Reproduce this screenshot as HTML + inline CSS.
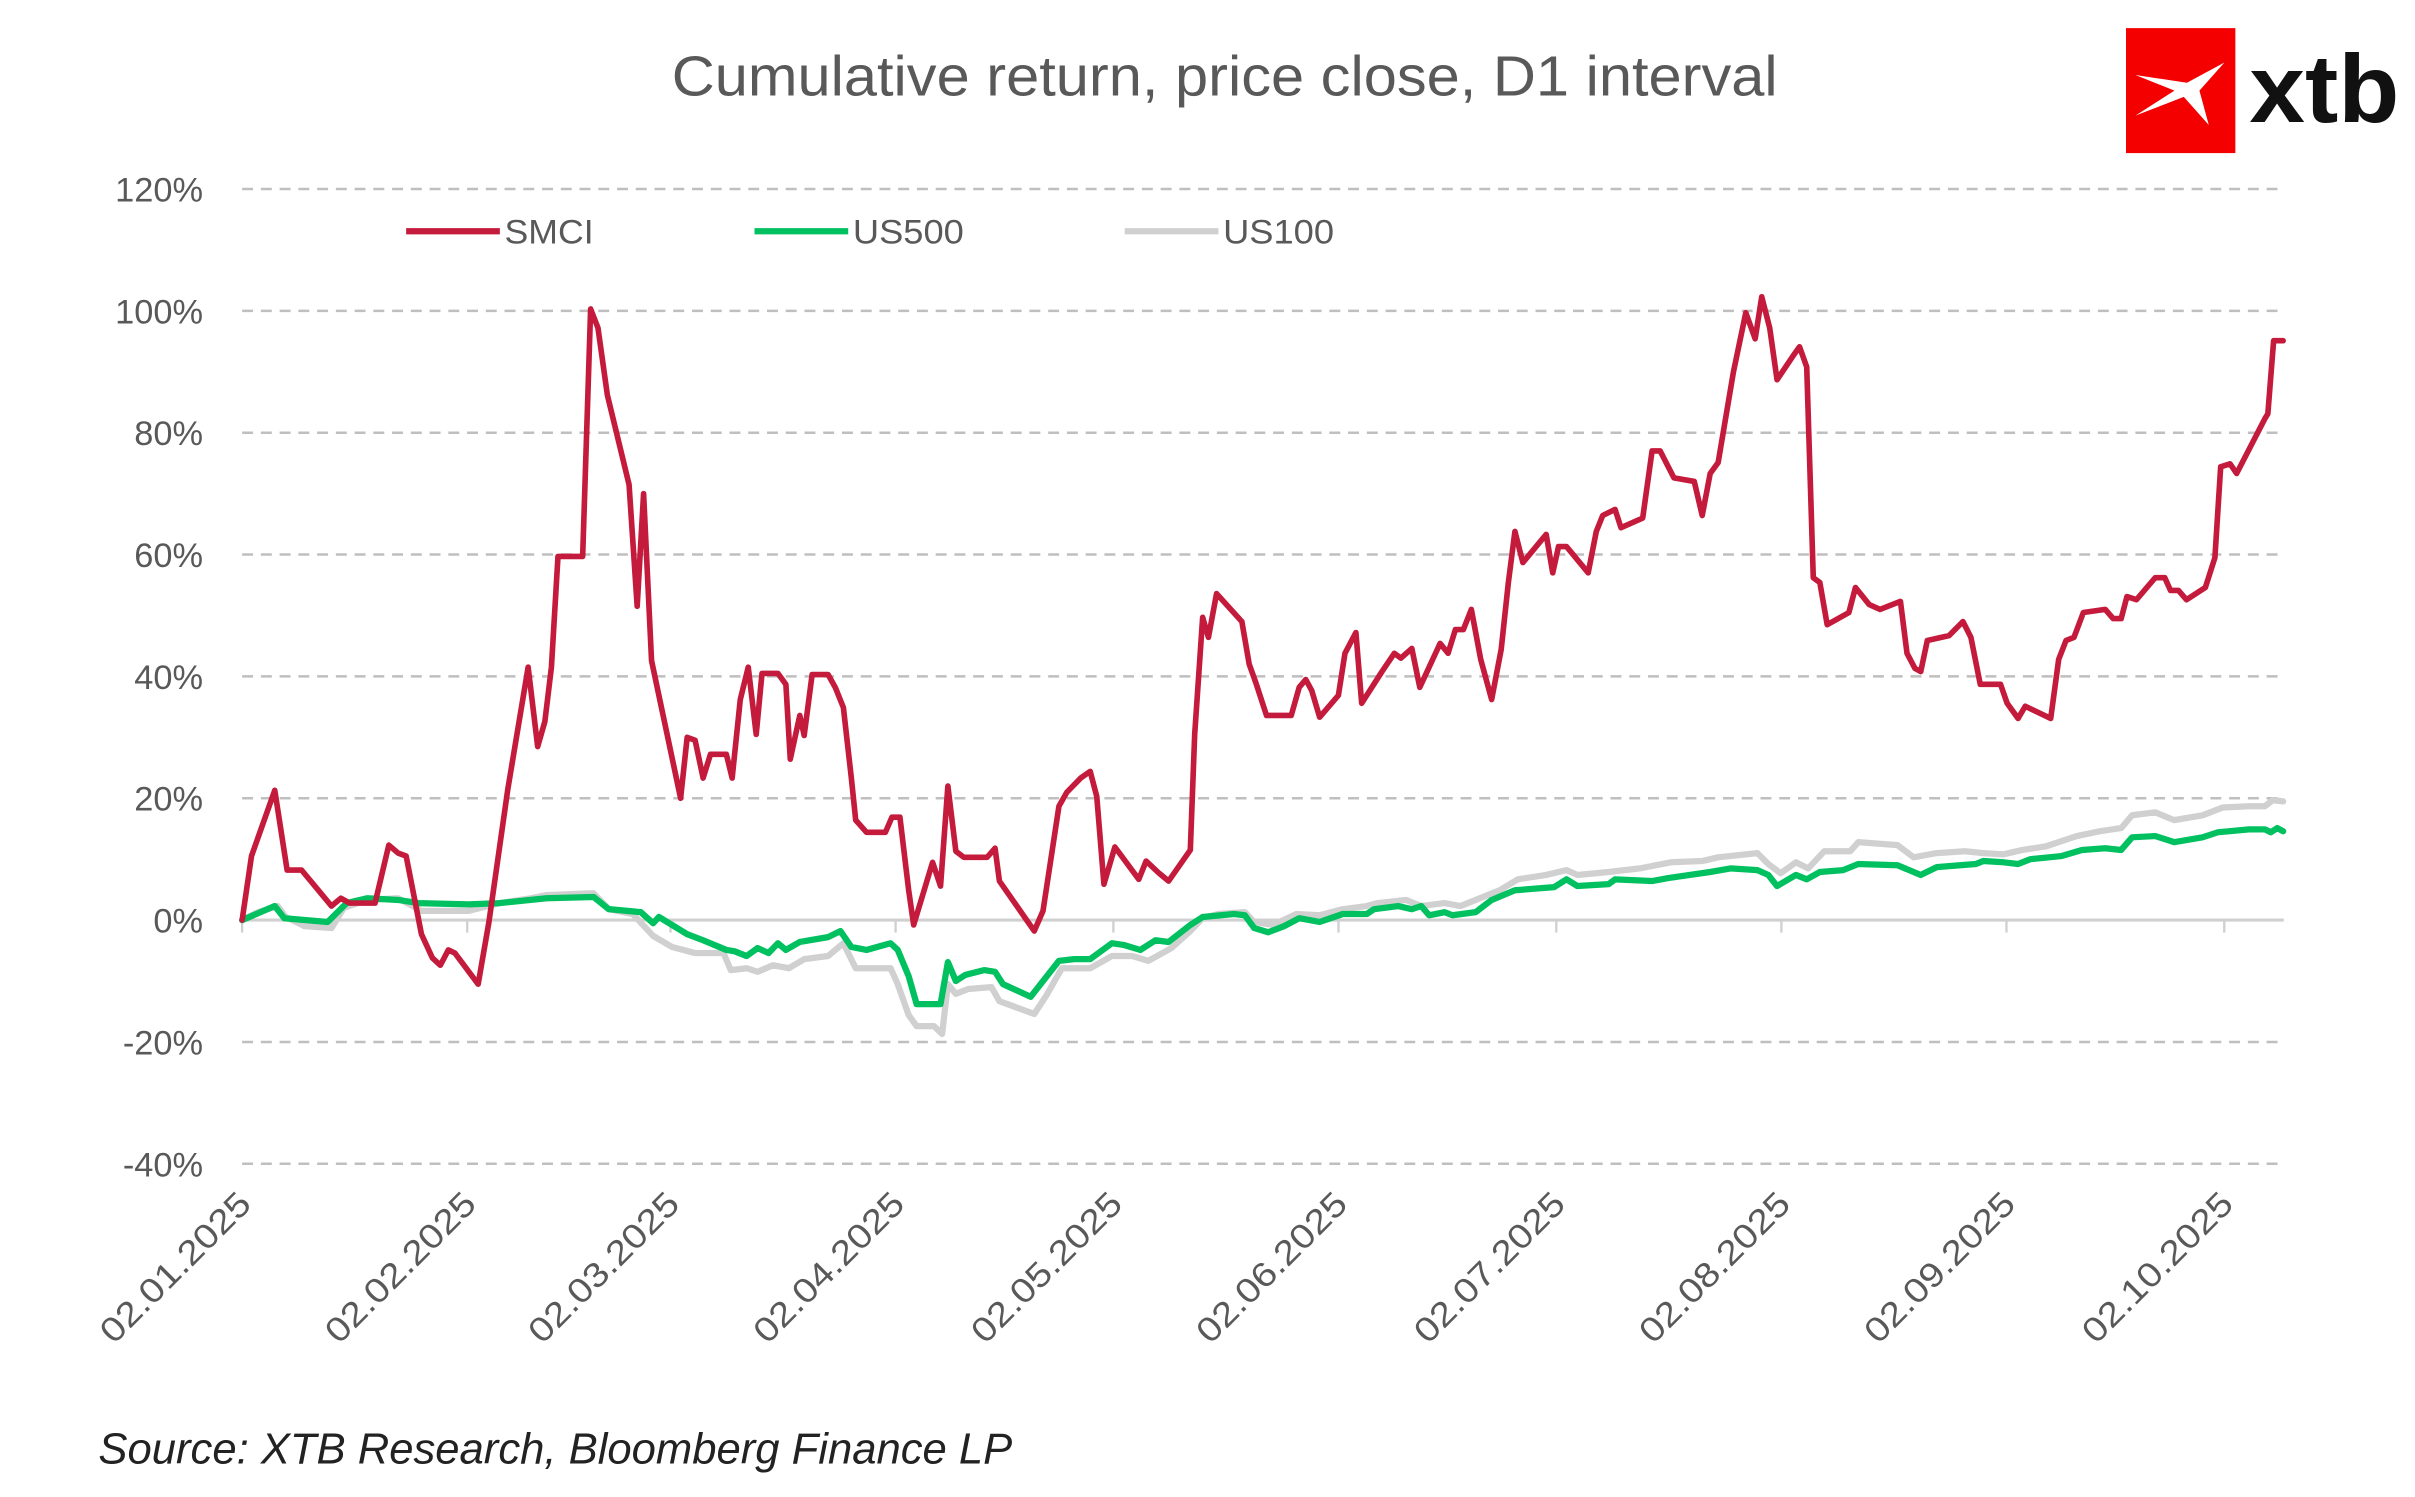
<!DOCTYPE html>
<html><head><meta charset="utf-8"><style>
html,body{margin:0;padding:0;background:#fff;}
svg{display:block;font-family:"Liberation Sans",sans-serif;}
</style></head><body>
<svg id="chart" width="2415" height="1497" viewBox="0 0 1546 958.3" preserveAspectRatio="none" xmlns="http://www.w3.org/2000/svg">
<rect width="1546" height="958.3" fill="#fff"/>
<text x="784" y="61" text-anchor="middle" font-size="36" fill="#595959" textLength="708" lengthAdjust="spacingAndGlyphs">Cumulative return, price close, D1 interval</text>
<g>
<rect x="1361" y="18" width="70" height="80" fill="#f40000"/>
<path d="M1367 48 L1392 58 L1367 74 L1398 62 L1414 80 L1408 58 L1424 40 L1400 53 Z" fill="#fff"/>
<text x="1440" y="78" font-size="62" font-weight="bold" fill="#111" textLength="96" lengthAdjust="spacingAndGlyphs">xtb</text>
</g>
<g id="grid"></g>
<g id="yticks"></g>
<g id="xticks"></g>
<g id="series"></g>
<g>
<g><line x1="260" y1="148" x2="320" y2="148" stroke="#c41a3b" stroke-width="4"/><text x="323" y="156" font-size="22" fill="#595959" textLength="57" lengthAdjust="spacingAndGlyphs">SMCI</text></g>
<g><line x1="483" y1="148" x2="543" y2="148" stroke="#00c060" stroke-width="4"/><text x="546" y="156" font-size="22" fill="#595959" textLength="71" lengthAdjust="spacingAndGlyphs">US500</text></g>
<g><line x1="720" y1="148" x2="780" y2="148" stroke="#d0d0d0" stroke-width="4"/><text x="783" y="156" font-size="22" fill="#595959" textLength="71" lengthAdjust="spacingAndGlyphs">US100</text></g>
</g>
<text x="63" y="937" font-size="28" font-style="italic" fill="#222" textLength="585" lengthAdjust="spacingAndGlyphs">Source: XTB Research, Bloomberg Finance LP</text>
</svg>
<script>
const yTickValues=[120,100,80,60,40,20,0,-20,-40];
const xTickLabels=["02.01.2025","02.02.2025","02.03.2025","02.04.2025","02.05.2025","02.06.2025","02.07.2025","02.08.2025","02.09.2025","02.10.2025"];
const xTickDays=[0,31,59,90,120,151,181,212,243,273];
const smciDays=[0,1.3,4.5,6.2,8.2,12.3,13.6,14.8,18.3,20.2,21.5,22.6,24.7,26.2,27.3,28.4,29.3,32.5,34,36.6,39.4,40.7,41.7,42.6,43.5,46.9,48,49,50.3,53.3,54.4,55.3,56.4,60.4,61.3,62.4,63.5,64.5,66.7,67.5,68.6,69.7,70.8,71.6,73.8,74.9,75.5,76.8,77.4,78.5,80.7,81.7,82.8,83.9,84.5,86,88.6,89.5,90.6,91.8,92.5,95.1,96.2,97.2,98.3,99.4,102.6,103.7,104.3,109.1,110.3,112.5,113.6,115.5,116.8,117.7,118.7,120.2,123.5,124.5,126.3,127.6,130.6,131.2,132.3,133.1,134.2,137.7,138.7,139.6,141.1,144.5,145.6,146.5,147.3,148.4,151,151.9,153.4,154.2,157,158.7,159.6,161.1,162.2,165,166.1,167.1,168.2,169.3,170.6,172.1,173.4,174.4,175.3,176.4,179.6,180.5,181.3,182.4,185.4,186.5,187.4,189.1,189.9,192.9,194.2,195.3,197.2,200,201.1,202.2,203.3,205.4,207.1,208.4,209.3,210.4,211.4,213.6,214.5,215.5,216.4,217.3,218.3,221.3,222.2,224.1,225.6,228.4,229.3,230.4,231.2,232.1,235.1,237,238.1,239.4,242.2,243.1,244.6,245.6,249.1,250.2,251.2,252.3,253.6,256.6,257.7,258.8,259.6,260.9,263.5,264.8,265.6,266.7,267.8,270.4,271.7,272.5,273.8,274.7,278.6,279,279.8,281.1];
const smciValues=[0,10.5,21.3,8.2,8.2,2.3,3.6,2.8,2.8,12.3,11,10.5,-2.3,-6.2,-7.4,-4.9,-5.4,-10.5,-0.3,21.5,41.5,28.5,32.6,41.5,59.7,59.7,100.3,97.2,86.2,71.5,51.5,70,42.6,20,30,29.5,23.3,27.2,27.2,23.3,36.2,41.5,30.5,40.5,40.5,38.7,26.4,33.6,30.3,40.3,40.3,38.2,34.9,23.3,16.4,14.4,14.4,16.9,16.9,4.9,-0.8,9.5,5.6,22,11.3,10.3,10.3,11.8,6.4,-1.8,1.5,18.7,21,23.3,24.4,20.3,5.9,12,6.7,9.7,7.7,6.4,11.5,30.5,49.7,46.4,53.6,49,42,39,33.6,33.6,38.2,39.5,37.7,33.3,36.9,43.8,47.2,35.6,40.8,43.8,43,44.6,38.2,45.4,43.8,47.7,47.7,51,42.8,36.2,44.4,55.4,63.8,58.7,63.3,57,61.3,61.3,57,63.8,66.4,67.4,64.4,66,77,77,72.6,72,66.4,73.3,75.1,90,99.7,95.4,102.3,97.2,88.7,92.6,94.1,90.8,56.2,55.4,48.5,50.5,54.6,51.8,51,52.3,43.8,41.3,40.8,45.9,46.7,49,46.4,38.7,38.7,35.6,33.1,35.1,33.1,42.8,45.9,46.4,50.5,51,49.5,49.5,53.1,52.6,56.2,56.2,54.1,54.1,52.6,54.6,59.5,74.4,74.9,73.3,82.3,83.1,95.1,95.1];
const us500Days=[0,4.5,5.8,11.8,14.4,17.2,21.5,24.3,31.2,35.5,41.9,48.4,50.5,54.9,56.6,57.4,61.3,63.5,66.7,67.8,69.5,71,72.5,73.8,74.9,76.8,80.7,82.4,83.9,86,89.3,90.3,91.8,92.9,96.2,97.2,98.3,99.6,102.2,103.7,104.8,108.6,110.3,112.5,114.6,116.8,119.8,121.5,123.7,125.8,127.6,130.6,132.3,136.6,138.1,139.4,141.3,143.5,145.6,148.4,151.6,154.9,155.9,159.2,161.1,162.4,163.5,165.6,166.7,169.9,172.1,175.3,180.7,182.4,183.9,188.2,189.1,194.2,196.4,202.2,205,208.7,210.2,211.4,214,215.5,217.3,220.5,222.6,228,231.2,233.4,236.6,238.8,239.8,242.6,244.6,246.3,250.6,253.4,256.6,258.8,260.3,263.5,266.1,270,272.1,276.4,278.6,279.4,280.3,281.1];
const us500Values=[0,2.3,0.3,-0.3,2.8,3.6,3.3,2.8,2.6,2.8,3.6,3.8,1.8,1.3,-0.5,0.5,-2.3,-3.3,-4.9,-5.1,-5.9,-4.6,-5.4,-3.8,-4.9,-3.6,-2.8,-1.8,-4.4,-4.9,-3.8,-4.9,-9.2,-13.8,-13.8,-6.9,-10,-9,-8.2,-8.5,-10.5,-12.6,-10,-6.7,-6.4,-6.4,-3.8,-4.1,-4.9,-3.3,-3.6,-0.8,0.5,1,0.8,-1.3,-2,-1,0.3,-0.3,1,1,1.8,2.3,1.8,2.3,0.8,1.3,0.8,1.3,3.3,4.9,5.4,6.7,5.6,5.9,6.7,6.4,6.9,7.9,8.5,8.2,7.4,5.6,7.4,6.7,7.9,8.2,9.2,9,7.4,8.7,9,9.2,9.7,9.5,9.2,10,10.5,11.5,11.8,11.5,13.6,13.8,12.8,13.6,14.4,14.9,14.9,14.4,15.1,14.6];
const us100Days=[0,2.2,4.9,6,8.6,12.3,14,17.2,21.5,24.7,31.2,35.5,39.8,41.9,48.4,50.5,53.8,56.6,59.2,62.4,66.3,67.3,69.5,71,73.1,75.3,77.4,80.7,82.8,84.5,89.3,90.3,91.8,92.9,95.3,96.4,97.2,98.3,100,103.2,104.3,109.1,110.8,112.9,116.8,118.3,119.8,122.6,124.8,128,130.6,132.3,134.4,138.1,139.4,142,145.2,148.4,151.6,154.9,156.4,160.3,162.4,165.6,167.8,169.9,173.2,175.7,179.6,182.4,183.9,188.2,192.5,196.8,201.1,203.3,208.7,210.2,211.9,214,215.7,217.9,221.5,222.6,228,230.2,233.4,237.3,239.8,242.6,245.2,248.4,252.7,255.9,258.8,260.3,263.5,266.1,270,272.8,276.4,278.6,279.7,281.1];
const us100Values=[0,1.3,2.3,0.5,-1,-1.3,2,3.3,3.6,1.5,1.5,2.8,3.6,4.1,4.4,1.8,1,-2.6,-4.4,-5.4,-5.4,-8.2,-7.9,-8.5,-7.4,-7.9,-6.4,-5.9,-3.8,-7.9,-7.9,-10.5,-15.6,-17.4,-17.4,-18.7,-10.5,-12.1,-11.3,-11,-13.3,-15.4,-12.3,-7.9,-7.9,-6.9,-5.9,-5.9,-6.7,-4.6,-1.8,0.3,1,1.3,-0.3,-0.8,1,0.8,1.8,2.3,2.8,3.3,2.3,2.8,2.3,3.3,4.9,6.7,7.4,8.2,7.4,7.9,8.5,9.5,9.7,10.3,11,9.2,7.7,9.5,8.5,11.3,11.3,12.8,12.3,10.3,11,11.3,11,10.8,11.5,12.1,13.8,14.6,15.1,17.2,17.7,16.4,17.2,18.5,18.7,18.7,19.7,19.5];

const NS="http://www.w3.org/2000/svg";
const X0=155,DAYPX=4.648,Y0=589,YPX=3.9,XR=1462;
function xs(d){return X0+d*DAYPX;}
function ys(v){return Y0-v*YPX;}
function mk(tag,attrs,parent){const e=document.createElementNS(NS,tag);for(const k in attrs)e.setAttribute(k,attrs[k]);parent.appendChild(e);return e;}
const grid=document.getElementById('grid'),yt=document.getElementById('yticks'),xt=document.getElementById('xticks'),ser=document.getElementById('series');
yTickValues.forEach(v=>{
  const l=mk('line',{x1:X0,x2:XR,y1:ys(v),y2:ys(v),stroke:v===0?'#d0d0d0':'#bfbfbf','stroke-width':v===0?2:1.6,'stroke-dasharray':v===0?'none':'7 5'},grid);
  
  
  const t=mk('text',{x:130,y:ys(v)+8,'text-anchor':'end','font-size':22,fill:'#595959'},yt);
  t.textContent=v+'%';
  
  
});
xTickDays.forEach((d,i)=>{
  const x=xs(d);
  const tk=mk('line',{x1:x,x2:x,y1:Y0,y2:Y0+8,stroke:'#d0d0d0','stroke-width':1.5},grid);
  
  
  const t=mk('text',{x:x+7,y:772,'text-anchor':'end','font-size':22,fill:'#595959',textLength:126,lengthAdjust:'spacingAndGlyphs',transform:`rotate(-45 ${x+7} 772)`},xt);
  t.textContent=xTickLabels[i];
  
  
});
function line(days,vals,color,w,name){
  const pts=days.map((d,i)=>xs(d).toFixed(1)+','+ys(vals[i]).toFixed(1)).join(' ');
  const p=mk('polyline',{points:pts,fill:'none',stroke:color,'stroke-width':w,'stroke-linejoin':'round','stroke-linecap':'round'},ser);
  
  
}
line(us100Days,us100Values,'#d0d0d0',4,'us100-line');
line(us500Days,us500Values,'#00c060',4,'us500-line');
line(smciDays,smciValues,'#c41a3b',3.6,'smci-line');
</script>
</body></html>
